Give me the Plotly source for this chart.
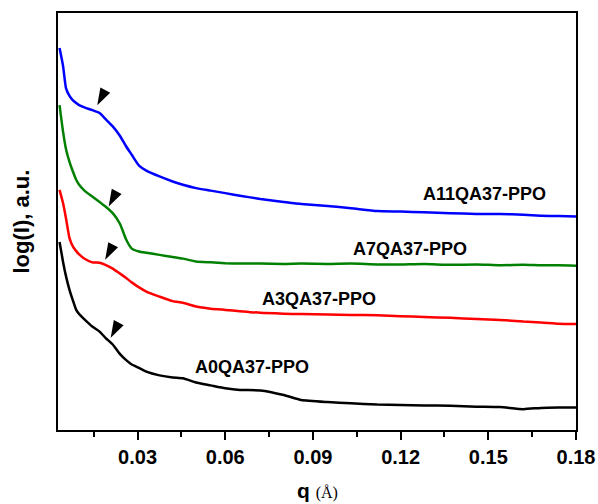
import plotly.graph_objects as go

# q values (Å^-1)
q = [0.0033, 0.0045, 0.0055, 0.0067, 0.0078, 0.009, 0.010, 0.012, 0.0145, 0.017,
     0.019, 0.0215, 0.024, 0.026, 0.028, 0.0305, 0.033, 0.0375, 0.042, 0.0455,
     0.050, 0.055, 0.060, 0.065, 0.072, 0.080, 0.086, 0.095, 0.103, 0.112,
     0.120, 0.128, 0.137, 0.146, 0.154, 0.162, 0.168, 0.174, 0.180]

# log(I), arbitrary offset units
a11 = [9.16, 8.73, 8.20, 8.01, 7.91, 7.84, 7.79, 7.73, 7.67, 7.60,
       7.46, 7.28, 7.05, 6.81, 6.60, 6.34, 6.22, 6.08, 5.96, 5.88,
       5.80, 5.74, 5.68, 5.62, 5.54, 5.47, 5.42, 5.37, 5.32, 5.25,
       5.24, 5.22, 5.20, 5.18, 5.18, 5.16, 5.14, 5.13, 5.12]
a7 = [7.79, 7.15, 6.74, 6.43, 6.21, 6.00, 5.88, 5.73, 5.60, 5.47,
      5.36, 5.20, 4.94, 4.58, 4.35, 4.28, 4.25, 4.20, 4.15, 4.11,
      4.04, 4.02, 4.00, 3.99, 3.99, 3.98, 3.99, 3.98, 3.99, 3.97,
      3.97, 3.98, 3.96, 3.97, 3.95, 3.96, 3.95, 3.95, 3.94]
a3 = [5.76, 5.44, 5.08, 4.60, 4.41, 4.29, 4.21, 4.10, 4.02, 4.01,
      3.96, 3.87, 3.75, 3.65, 3.54, 3.42, 3.32, 3.20, 3.09, 3.05,
      2.96, 2.91, 2.88, 2.85, 2.81, 2.79, 2.78, 2.77, 2.76, 2.75,
      2.73, 2.71, 2.69, 2.66, 2.64, 2.60, 2.58, 2.55, 2.54]
a0 = [4.51, 4.03, 3.69, 3.36, 3.12, 2.88, 2.78, 2.64, 2.48, 2.36,
      2.21, 2.05, 1.82, 1.68, 1.57, 1.49, 1.40, 1.31, 1.26, 1.24,
      1.14, 1.07, 1.00, 0.96, 0.95, 0.84, 0.72, 0.67, 0.64, 0.61,
      0.60, 0.59, 0.58, 0.56, 0.55, 0.50, 0.53, 0.54, 0.54]

names = ["A11QA37-PPO", "A7QA37-PPO", "A3QA37-PPO", "A0QA37-PPO"]
series = [a11, a7, a3, a0]
colors = ["#0000ff", "#008000", "#ff0000", "#000000"]

label_q = [0.1488, 0.1232, 0.0920, 0.0692]
label_y = [5.65, 4.34, 3.14, 1.50]

# arrowhead tip positions (marking the shoulders)
arrow_q = [0.0162, 0.0201, 0.0189, 0.0208]
arrow_y = [7.79, 5.36, 4.08, 2.21]

xticks = [0.03, 0.06, 0.09, 0.12, 0.15, 0.18]
xticklabels = ["0.03", "0.06", "0.09", "0.12", "0.15", "0.18"]
xminor = [0.015, 0.045, 0.075, 0.105, 0.135, 0.165]

FONT = "Liberation Sans, Arial, sans-serif"

fig = go.Figure()
for ys, c, n in zip(series, colors, names):
    fig.add_trace(go.Scatter(x=q, y=ys, mode="lines", name=n,
                             line=dict(color=c, width=2.5, shape="spline", smoothing=0.5)))

fig.add_trace(go.Scatter(x=arrow_q, y=arrow_y, mode="markers",
                         marker=dict(symbol="arrow", size=18, angle=208, color="black",
                                     line=dict(width=0)),
                         showlegend=False, hoverinfo="skip"))

for n, lx, ly in zip(names, label_q, label_y):
    fig.add_annotation(x=lx, y=ly, text="<b>" + n + "</b>", showarrow=False,
                       font=dict(family=FONT, size=18, color="black"))

# axis titles
fig.add_annotation(xref="paper", yref="paper", x=0.5, y=-0.144, xanchor="center", yanchor="middle",
                   text="<b>q</b> <span style='font-family:Liberation Serif, serif; font-size:16px'>(Å)</span>",
                   showarrow=False, font=dict(family=FONT, size=21, color="black"))
fig.add_annotation(xref="paper", yref="paper", x=-0.0695, y=0.5, xanchor="center", yanchor="middle",
                   text="<b>log(I), a.u.</b>", textangle=-90,
                   showarrow=False, font=dict(family=FONT, size=22, color="black"))

fig.update_layout(
    width=598, height=504,
    margin=dict(l=58, r=22, t=13, b=74),
    paper_bgcolor="white", plot_bgcolor="white",
    showlegend=False,
    font=dict(family=FONT, color="black"),
)
fig.update_xaxes(
    range=[0.00277, 0.18], showgrid=False, zeroline=False, automargin=False,
    showline=True, linewidth=2, linecolor="black", mirror=True,
    ticks="outside", ticklen=8, tickwidth=2, tickcolor="black",
    tickvals=xticks, ticktext=["<b>" + t + "</b>" for t in xticklabels],
    tickfont=dict(family=FONT, size=20, color="black"),
    minor=dict(ticks="outside", ticklen=5, tickwidth=2, tickcolor="black", tickvals=xminor),
)
fig.update_yaxes(
    range=[0, 10], showgrid=False, zeroline=False, automargin=False,
    showline=True, linewidth=2, linecolor="black", mirror=True,
    showticklabels=False, ticks="",
)

fig.write_html("out.html")
